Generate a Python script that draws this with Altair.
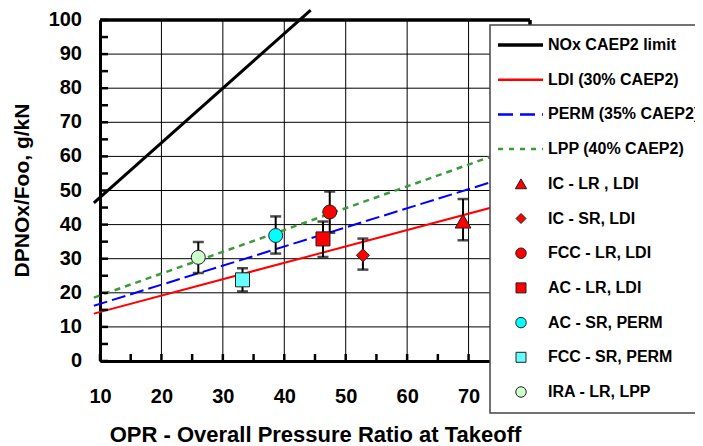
import altair as alt
import pandas as pd

FONT = "Liberation Sans"

# ---- reference lines (end points) ----
line_opr = [9.0, 80.0]
caep2_opr = [9.0, 44.3]
caep2_val = [46.4, 102.9]
ldi_val = [13.9, 48.0]
perm_val = [16.2, 56.0]
lpp_val = [18.6, 64.0]

# ---- test data points ----
pt_names = ["IC - LR , LDI", "IC - SR, LDI", "FCC - LR, LDI", "AC - LR, LDI",
            "AC - SR, PERM", "FCC - SR, PERM", "IRA - LR, LPP"]
pt_opr = [69.1, 52.8, 47.4, 46.3, 38.6, 33.2, 26.0]
pt_val = [41.0, 31.0, 43.7, 35.8, 36.8, 23.8, 30.4]
pt_lo = [35.4, 26.8, 37.6, 30.5, 31.5, 20.4, 25.8]
pt_hi = [47.5, 35.9, 49.7, 40.9, 42.4, 27.2, 34.9]
pt_shape = ["triangle-up", "diamond", "circle", "square", "circle", "square", "circle"]
pt_fill = ["#FF0000", "#FF0000", "#FF0000", "#FF0000", "#00FFFF", "#66FFFF", "#CCFFCC"]
pt_size = [250, 170, 196, 196, 196, 196, 196]

x_ticks = [10, 20, 30, 40, 50, 60, 70]
x_grid = [10, 20, 30, 40, 50, 60, 70, 80]
y_ticks = [0, 10, 20, 30, 40, 50, 60, 70, 80, 90, 100]
y_tick_text = ["0", "10", "20", "30", "40", "50", "60", "70", "80", "90", "100"]
x_minor = [10, 15, 20, 25, 30, 35, 40, 45, 50, 55, 60, 65, 70, 75, 80]
y_minor = [0, 5, 10, 15, 20, 25, 30, 35, 40, 45, 50, 55, 60, 65, 70, 75, 80, 85, 90, 95, 100]

line_labels = ["NOx CAEP2 limit", "LDI (30% CAEP2)", "PERM (35% CAEP2)", "LPP (40% CAEP2)"]

W, H = 430, 341

xs = alt.Scale(domain=[10, 80], nice=False, zero=False)
ys = alt.Scale(domain=[0, 100], nice=False, zero=False)

XAX = alt.Axis(
    values=x_ticks, grid=False, labelOverlap=False, labelFlush=False,
    ticks=False, domainColor="black", domainWidth=3,
    labelFont=FONT, labelFontWeight="bold", labelFontSize=20, labelColor="black",
    labelPadding=35, labelBaseline="middle",
    title="OPR - Overall Pressure Ratio at Takeoff", titleFont=FONT,
    titleFontWeight="bold", titleFontSize=22, titleColor="black",
    titleX=215, titleY=73, titleBaseline="middle", titleAlign="center",
    zindex=0)
YAX = alt.Axis(
    values=y_ticks, grid=False, labels=False,
    ticks=False, domainColor="black", domainWidth=3,
    title="DPNOx/Foo, g/kN", titleFont=FONT, titleFontWeight="bold",
    titleFontSize=21, titleColor="black", titleAngle=270,
    titleX=-78, titleY=170, titleBaseline="middle", titleAlign="center",
    zindex=0)


def xe(field):
    return alt.X(field, scale=xs, axis=XAX)


def ye(field):
    return alt.Y(field, scale=ys, axis=YAX)


lines_df = pd.DataFrame({"opr": line_opr, "ldi": ldi_val, "perm": perm_val, "lpp": lpp_val})
caep_df = pd.DataFrame({"opr": caep2_opr, "val": caep2_val})
pts_df = pd.DataFrame({"name": pt_names, "opr": pt_opr, "val": pt_val, "lo": pt_lo, "hi": pt_hi})
ylab_df = pd.DataFrame({"gy": y_ticks, "txt": y_tick_text})

# grid lines drawn as rules at tick values
xgrid = alt.Chart(pd.DataFrame({"gx": x_grid})).mark_rule(color="black", strokeWidth=1).encode(
    x=xe("gx:Q"), y=alt.value(0), y2=alt.value(H))
ygrid = alt.Chart(ylab_df).mark_rule(color="black", strokeWidth=1).encode(
    y=ye("gy:Q"), x=alt.value(0), x2=alt.value(W))
ylabels = alt.Chart(ylab_df).mark_text(
    align="right", baseline="middle", font=FONT, fontWeight="bold",
    fontSize=20, color="black").encode(
    y=ye("gy:Q"), x=alt.value(-18), text="txt:N")

base_lines = alt.Chart(lines_df)
ldi = base_lines.mark_line(color="#FF0000", strokeWidth=2).encode(x=xe("opr:Q"), y=ye("ldi:Q"))
perm = base_lines.mark_line(color="#0000FF", strokeWidth=2, strokeDash=[14, 5]).encode(
    x=xe("opr:Q"), y=ye("perm:Q"))
lpp = base_lines.mark_line(color="#3C9A3C", strokeWidth=2.5, strokeDash=[6, 5]).encode(
    x=xe("opr:Q"), y=ye("lpp:Q"))
caep = alt.Chart(caep_df).mark_line(color="black", strokeWidth=3).encode(
    x=xe("opr:Q"), y=ye("val:Q"))

err = alt.Chart(pts_df).mark_rule(color="black", strokeWidth=2).encode(
    x=xe("opr:Q"), y=ye("lo:Q"), y2="hi:Q")
cap_lo = alt.Chart(pts_df).mark_tick(color="black", orient="horizontal", size=11, thickness=2.5).encode(
    x=xe("opr:Q"), y=ye("lo:Q"))
cap_hi = alt.Chart(pts_df).mark_tick(color="black", orient="horizontal", size=11, thickness=2.5).encode(
    x=xe("opr:Q"), y=ye("hi:Q"))

markers = []
for i in range(len(pt_names)):
    d = pts_df.iloc[[i]]
    markers.append(alt.Chart(d).mark_point(
        shape=pt_shape[i], filled=True, fill=pt_fill[i], stroke="#222222",
        strokeWidth=1, size=pt_size[i], opacity=1).encode(
        x=xe("opr:Q"), y=ye("val:Q")))

frame_top = alt.Chart(caep_df).mark_rule(color="black", strokeWidth=3).encode(
    x=alt.datum(10), x2=alt.datum(80), y=alt.datum(100))
frame_right = alt.Chart(caep_df).mark_rule(color="black", strokeWidth=3).encode(
    x=alt.datum(80), y=alt.datum(0), y2=alt.datum(100))

ytick_marks = alt.Chart(pd.DataFrame({"ty": y_minor})).mark_rule(color="black", strokeWidth=2.5).encode(
    y=ye("ty:Q"), x=alt.value(0), x2=alt.value(8))
xtick_marks = alt.Chart(pd.DataFrame({"tx": x_minor})).mark_rule(color="black", strokeWidth=2.5).encode(
    x=xe("tx:Q"), y=alt.value(H), y2=alt.value(H - 7))

# ---- custom legend box ----
one = pd.DataFrame({"a": [0]})
legend_layers = [alt.Chart(one).mark_rect(fill="white", stroke="#444444", strokeWidth=1.5).encode(
    x=alt.value(390), x2=alt.value(640), y=alt.value(5), y2=alt.value(393))]

row_y0, row_dy = 25, 34.7
line_styles = [dict(color="black", strokeWidth=3.5),
               dict(color="#FF0000", strokeWidth=2.5),
               dict(color="#0000FF", strokeWidth=2.5, strokeDash=[15, 7]),
               dict(color="#3C9A3C", strokeWidth=2.5, strokeDash=[5, 6])]
labels_all = line_labels + pt_names
leg_sizes = [130, 100, 110, 100, 110, 100, 110]
for k, lab in enumerate(labels_all):
    ly = row_y0 + row_dy * k
    if k < 4:
        legend_layers.append(alt.Chart(one).mark_rule(**line_styles[k]).encode(
            x=alt.value(398), x2=alt.value(443), y=alt.value(ly)))
    else:
        i = k - 4
        legend_layers.append(alt.Chart(one).mark_point(
            shape=pt_shape[i], filled=True, fill=pt_fill[i], stroke="#222222",
            strokeWidth=1, size=leg_sizes[i], opacity=1).encode(
            x=alt.value(421), y=alt.value(ly)))
    legend_layers.append(alt.Chart(one).mark_text(
        align="left", baseline="middle", font=FONT, fontWeight="bold",
        fontSize=16, color="black").encode(
        x=alt.value(448), y=alt.value(ly), text=alt.value(lab)))

chart = alt.layer(
    xgrid, ygrid, ylabels, ldi, perm, lpp, caep, err, cap_lo, cap_hi, *markers,
    frame_top, frame_right, ytick_marks, xtick_marks, *legend_layers
).properties(
    width=W, height=H,
    autosize=alt.AutoSizeParams(type="none"),
    padding={"left": 92, "top": 12, "right": 165, "bottom": 85},
).configure_view(strokeWidth=0).configure(background="white")

chart.save("out.html", embed_options={"renderer": "svg", "actions": False})
